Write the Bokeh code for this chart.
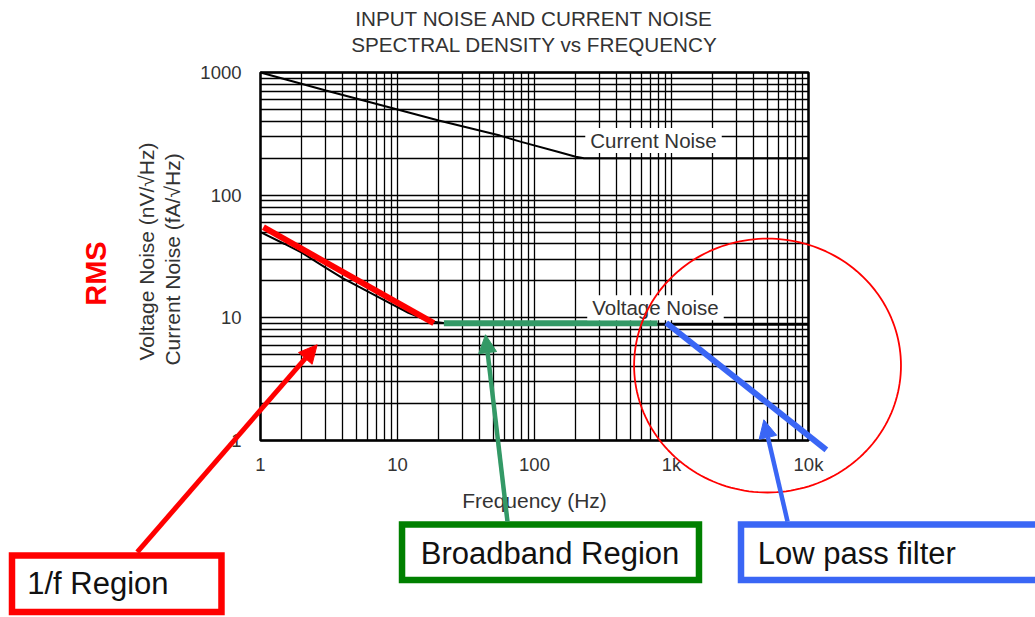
import numpy as np
from bokeh.plotting import figure
from bokeh.models import (FixedTicker, Range1d, Label, Arrow, NormalHead, PolyAnnotation, Grid)
from bokeh.embed import file_html
from bokeh.resources import INLINE

# ---------------- data ----------------
freq_current = [1, 3, 10, 20, 56, 80, 150, 200, 230, 10000]
current_noise = [1000, 713, 500, 406, 306, 272, 225, 206, 200, 200]

freq_voltage = [1, 1.5, 2, 3, 4, 6, 9, 12, 17, 25, 40, 10000]
voltage_noise = [50, 40, 34, 25.5, 21, 16.5, 13, 11, 9.4, 8.9, 8.8, 8.8]

# highlighted regions (Hz, noise units)
onef_f = [1.05, 18.4]
onef_v = [54.8, 9.04]
broad_f = [21.8, 790]
broad_v = [9.04, 9.04]
lowpass_f = [915, 13500]
lowpass_v = [9.12, 0.84]

x_ticks = [1, 10, 100, 1000, 10000]
x_tick_labels = ["1", "10", "100", "1k", "10k"]
y_ticks = [1, 10, 100, 1000]
y_tick_labels = ["1", "10", "100", "1000"]

# annotation boxes: (left, right, top, bottom) in data units
box_1f = (0.01535, 0.519, 0.1155, 0.0400)
box_broad = (10.79, 1587, 0.2066, 0.0729)
box_lowpass = (3216, 537000, 0.2066, 0.0729)

# arrows: (x_start, y_start, x_end, y_end)
arrow_1f = (0.126, 0.123, 2.59, 6.03)
arrow_broad = (63.5, 0.219, 43.9, 7.28)
arrow_lowpass = (7030, 0.219, 4720, 1.475)

# circle around the low-pass region: centre (log10 f, log10 v), radii in decades
circle_center = (3.701, 0.611)
circle_radii = (0.974, 1.035)

# ---------------- layout constants ----------------
W, H = 1035, 617
X0_PX, XDEC_PX = 260, 137.0          # pixel of f=1, pixels per decade
Y0_PX, YDEC_PX = 440, 368 / 3.0      # pixel of v=1, pixels per decade

FONT = "Liberation Sans"
RED = "#ff0000"
GREEN_LINE = "#339966"
GREEN_BOX = "#008000"
BLUE = "#3a66f5"
TXT = "#333333"

x_range = Range1d(10 ** (-X0_PX / XDEC_PX), 10 ** ((W - X0_PX) / XDEC_PX))
y_range = Range1d(10 ** (-(H - Y0_PX) / YDEC_PX), 10 ** (Y0_PX / YDEC_PX))

p = figure(width=W, height=H, x_axis_type="log", y_axis_type="log",
           x_range=x_range, y_range=y_range,
           output_backend="svg", toolbar_location=None, min_border=0)
p.background_fill_color = "white"
p.border_fill_color = "white"
p.outline_line_color = None

minor_x = [m * 10 ** k for k in range(4) for m in range(2, 10)]
minor_y = [m * 10 ** k for k in range(3) for m in range(2, 10)]
xt = FixedTicker(ticks=x_ticks, minor_ticks=minor_x)
yt = FixedTicker(ticks=y_ticks, minor_ticks=minor_y)

xax = p.xaxis[0]
yax = p.yaxis[0]
xax.ticker = xt
yax.ticker = yt
xax.fixed_location = y_ticks[0]
yax.fixed_location = x_ticks[0]
xax.bounds = (x_ticks[0], x_ticks[-1])
yax.bounds = (y_ticks[0], y_ticks[-1])
xax.major_label_overrides = {t: l for t, l in zip(x_ticks, x_tick_labels)}
yax.major_label_overrides = {t: l for t, l in zip(y_ticks, y_tick_labels)}
for ax in (xax, yax):
    ax.axis_line_color = None
    ax.major_tick_line_color = None
    ax.minor_tick_line_color = None
    ax.major_label_text_font = FONT
    ax.major_label_text_font_size = "18.5px"
    ax.major_label_text_color = TXT
xax.major_label_standoff = 7
yax.major_label_standoff = 13
xax.axis_label = "Frequency (Hz)"
xax.axis_label_text_font = FONT
xax.axis_label_text_font_size = "21px"
xax.axis_label_text_font_style = "normal"
xax.axis_label_text_color = TXT
xax.axis_label_standoff = 11

# grid limited to the chart box
xg, yg = p.xgrid[0], p.ygrid[0]
if "cross_bounds" in Grid.properties():
    for g, tk, b, cb in [(xg, xt, (x_ticks[0], x_ticks[-1]), (y_ticks[0], y_ticks[-1])),
                         (yg, yt, (y_ticks[0], y_ticks[-1]), (x_ticks[0], x_ticks[-1]))]:
        g.ticker = tk
        g.bounds = b
        g.cross_bounds = cb
        g.grid_line_color = "black"
        g.grid_line_width = 1.3
        g.minor_grid_line_color = "black"
        g.minor_grid_line_width = 1.3
else:
    xg.visible = False
    yg.visible = False
    vx = x_ticks + minor_x
    hy = y_ticks + minor_y
    p.segment(x0=vx, y0=[y_ticks[0]] * len(vx), x1=vx, y1=[y_ticks[-1]] * len(vx),
              line_color="black", line_width=1.3)
    p.segment(x0=[x_ticks[0]] * len(hy), y0=hy, x1=[x_ticks[-1]] * len(hy), y1=hy,
              line_color="black", line_width=1.3)

# chart border
p.quad(left=[x_ticks[0]], right=[x_ticks[-1]], bottom=[y_ticks[0]], top=[y_ticks[-1]],
       fill_color=None, line_color="black", line_width=2.5)

# curves
p.line(freq_current, current_noise, line_color="black", line_width=2)
p.line(freq_voltage, voltage_noise, line_color="black", line_width=2)
p.line(onef_f, onef_v, line_color=RED, line_width=6)
p.line(broad_f, broad_v, line_color=GREEN_LINE, line_width=6)
p.line(lowpass_f, lowpass_v, line_color=BLUE, line_width=6)

# curve labels with white background
for txt, x, y in [("Current Noise", 739, 279), ("Voltage Noise", 764, 12.1)]:
    p.add_layout(Label(x=x, y=y, text=txt, text_font=FONT, text_font_size="20.5px",
                       text_color=TXT, text_align="center", text_baseline="middle",
                       background_fill_color="white",
                       padding=dict(left=5, right=5, top=1, bottom=1)))

# title
for txt, y in [("INPUT NOISE AND CURRENT NOISE", 2755),
               ("SPECTRAL DENSITY vs FREQUENCY", 1692)]:
    p.add_layout(Label(x=100, y=y, text=txt, text_font=FONT, text_font_size="20.7px",
                       text_color=TXT, text_align="center", text_baseline="middle"))

# y-axis labels
for txt, x, y in [("Voltage Noise (nV/\u221aHz)", 0.1472, 34.7),
                  ("Current Noise (fA/\u221aHz)", 0.2279, 29.9)]:
    p.add_layout(Label(x=x, y=y, text=txt, text_font=FONT, text_font_size="21px",
                       text_color=TXT, text_align="center", text_baseline="middle",
                       angle=np.pi / 2))
p.add_layout(Label(x=0.0635, y=22.98, text="RMS", text_font=FONT, text_font_size="29px",
                   text_font_style="bold", text_color=RED, text_align="center",
                   text_baseline="middle", angle=np.pi / 2))

# circle
t = np.linspace(0, 2 * np.pi, 181)
cx = 10 ** (circle_center[0] + circle_radii[0] * np.cos(t))
cy = 10 ** (circle_center[1] + circle_radii[1] * np.sin(t))
p.add_layout(PolyAnnotation(xs=list(cx), ys=list(cy), fill_color=None, fill_alpha=0,
                            line_color=RED, line_alpha=1.0, line_width=1.8))

# boxes
for b, color in [(box_1f, RED), (box_broad, GREEN_BOX), (box_lowpass, BLUE)]:
    l, r, tp, bt = b
    p.quad(left=[l], right=[r], top=[tp], bottom=[bt], fill_color="white",
           line_color=color, line_width=6.5, line_join="miter")

p.add_layout(Label(x=0.01982, y=0.0683, text="1/f Region", text_font=FONT,
                   text_font_size="31px", text_color="#111111", text_align="left",
                   text_baseline="middle"))
p.add_layout(Label(x=129.8, y=0.1199, text="Broadband Region", text_font=FONT,
                   text_font_size="31px", text_color="#111111", text_align="center",
                   text_baseline="middle"))
p.add_layout(Label(x=4265, y=0.1199, text="Low pass filter", text_font=FONT,
                   text_font_size="31px", text_color="#111111", text_align="left",
                   text_baseline="middle"))

# arrows
for a, color, w in [(arrow_1f, RED, 5), (arrow_broad, GREEN_LINE, 4.5), (arrow_lowpass, BLUE, 4.5)]:
    p.add_layout(Arrow(end=NormalHead(size=18, fill_color=color, line_color=color, line_width=1),
                       start=None, x_start=a[0], y_start=a[1], x_end=a[2], y_end=a[3],
                       line_color=color, line_width=w))

open("out.html", "w").write(file_html(p, INLINE))
